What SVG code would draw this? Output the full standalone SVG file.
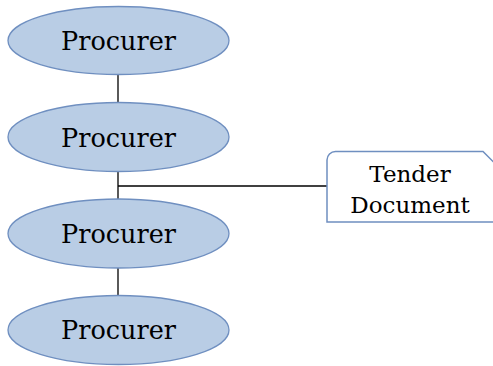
<svg xmlns="http://www.w3.org/2000/svg" width="493" height="366" viewBox="0 0 493 366">
<style>
.node ellipse{fill:#B9CDE5;stroke:#6F8FC0;stroke-width:1.3}
.lbl{font-family:"DejaVu Serif",serif;font-size:25.5px;fill:#000;text-anchor:middle}
.doc{fill:#FFFFFF;stroke:#6F8FC0;stroke-width:1.5}
.dlbl{font-family:"DejaVu Serif",serif;font-size:23px;fill:#000;text-anchor:middle}
.conn line{stroke:#000;stroke-width:1.3}
</style>
<rect width="493" height="366" fill="#FFFFFF"/>
<g id="connectors" class="conn">
<line x1="118" y1="74" x2="118" y2="103"/>
<line x1="118" y1="171" x2="118" y2="199"/>
<line x1="118" y1="186" x2="327" y2="186"/>
<line x1="118" y1="268" x2="118" y2="296"/>
</g>
<g id="procurer1" class="node">
<ellipse cx="118.5" cy="40.5" rx="110.5" ry="34"/>
<text class="lbl" x="118.5" y="50">Procurer</text>
</g>
<g id="procurer2" class="node">
<ellipse cx="118.5" cy="137" rx="110.5" ry="34.5"/>
<text class="lbl" x="118.5" y="147">Procurer</text>
</g>
<g id="procurer3" class="node">
<ellipse cx="118.5" cy="233.5" rx="110.5" ry="34.5"/>
<text class="lbl" x="118.5" y="243">Procurer</text>
</g>
<g id="procurer4" class="node">
<ellipse cx="118.5" cy="330" rx="110.5" ry="34.5"/>
<text class="lbl" x="118.5" y="339">Procurer</text>
</g>
<g id="tender">
<path class="doc" d="M327,222 L327,160 A8.5,8.5 0 0 1 335.5,151.5 L483,151.5 L500,168.5 L500,222 Z"/>
<text class="dlbl" x="410" y="182">Tender</text>
<text class="dlbl" x="410" y="213">Document</text>
</g>
</svg>
